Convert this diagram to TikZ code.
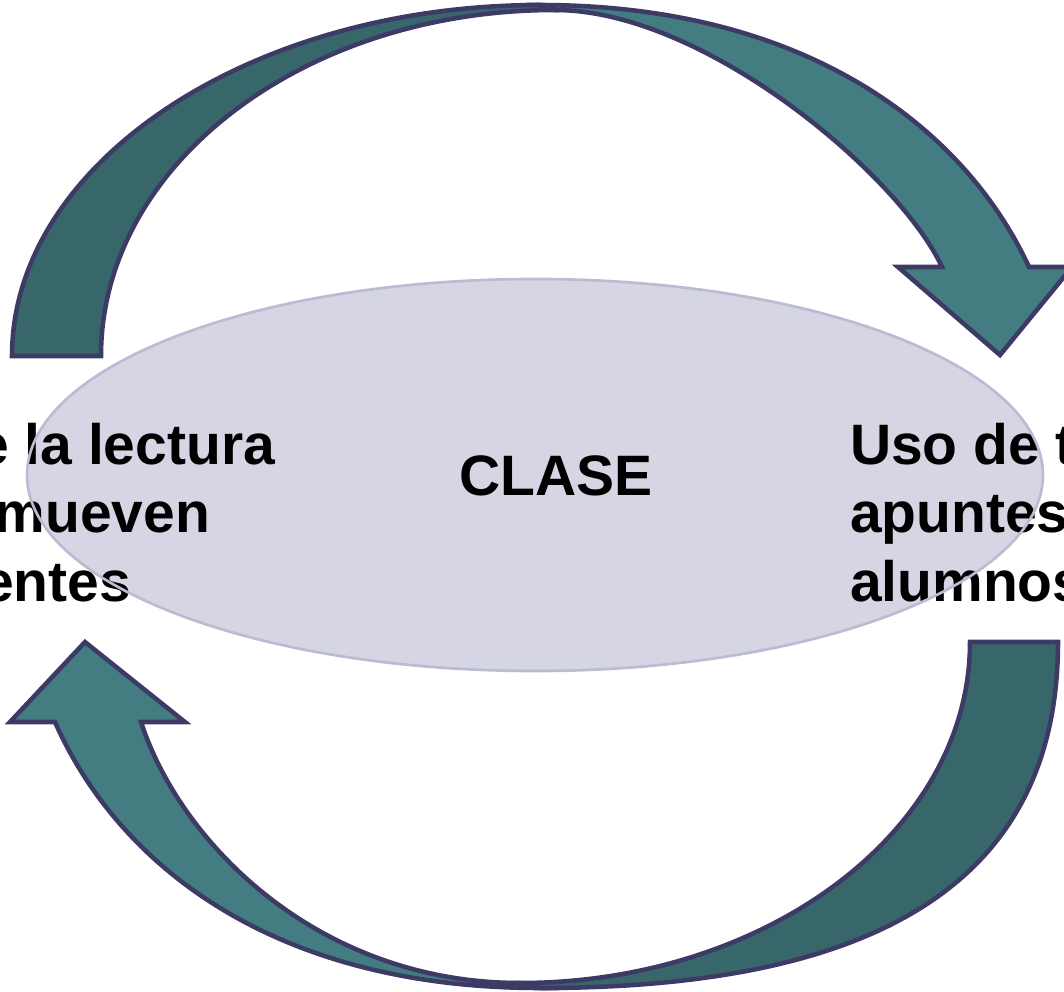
\documentclass[tikz,border=0pt]{standalone}
\usepackage{fontspec}
\setmainfont{Liberation Sans}
\usetikzlibrary{shapes.geometric}
\definecolor{tealdark}{HTML}{37676A}
\definecolor{teallight}{HTML}{437D82}
\definecolor{arrowline}{HTML}{3D3B66}
\definecolor{ellfill}{HTML}{D5D5E3}
\definecolor{ellline}{HTML}{BBBBD3}
\begin{document}
\begin{tikzpicture}[x=0.75pt,y=-0.75pt,
  arrowpart/.style={draw=arrowline,line width=3.4pt},
  lbl/.style={inner sep=0pt,outer sep=0pt,font=\fontsize{42.75}{51}\selectfont\bfseries}]
\useasboundingbox (0,0) rectangle (1064,992);
% apex points shared by the two parts of each curved arrow
\coordinate (ta) at (540,5);
\coordinate (tb) at (555,10);
\coordinate (ba) at (540,988);
\coordinate (bb) at (520,983);
% top curved arrow: back part
\path[arrowpart,fill=tealdark] (12,356) .. controls (12,163) and (250,5) .. (ta) -- (tb)
  .. controls (303,10) and (101,165) .. (101,356) -- cycle;
% top curved arrow: front part with head
\path[arrowpart,fill=teallight] (ta) .. controls (810,5) and (966,131) .. (1029,267)
  -- (1072,267) -- (1000,355) -- (898,267) -- (942,267)
  .. controls (900,176) and (705,10) .. (tb) -- cycle;
% bottom curved arrow: back part
\path[arrowpart,fill=tealdark] (1058,642) .. controls (1058,880) and (880,988) .. (ba) -- (bb)
  .. controls (765,983) and (970,832) .. (970,642) -- cycle;
% bottom curved arrow: front part with head
\path[arrowpart,fill=teallight] (ba) .. controls (265,988) and (115,858) .. (55,722)
  -- (10,722) -- (85,642) -- (185,722) -- (141,722)
  .. controls (181,845) and (320,983) .. (bb) -- cycle;
% central ellipse
\node[ellipse,fill=ellfill,draw=none,minimum width=762pt,minimum height=294pt,inner sep=0pt] (clase) at (535,475) {};
% texts
\node[lbl,anchor=base east] (l1) at (275,464) {e la lectura};
\node[lbl,anchor=base east] (l2) at (210,532) {mueven};
\node[lbl,anchor=base east] (l3) at (131,601) {entes};
\node[lbl,anchor=base west] (r1) at (850,464) {Uso de t};
\node[lbl,anchor=base west] (r2) at (850,532) {apuntes};
\node[lbl,anchor=base west] (r3) at (850,601) {alumnos};
\node[lbl,anchor=base] (ct) at (556,495) {CLASE};
% ellipse border above texts
\draw[ellline,line width=2pt] (clase.center) ellipse [x radius=508, y radius=196];
\end{tikzpicture}
\end{document}
